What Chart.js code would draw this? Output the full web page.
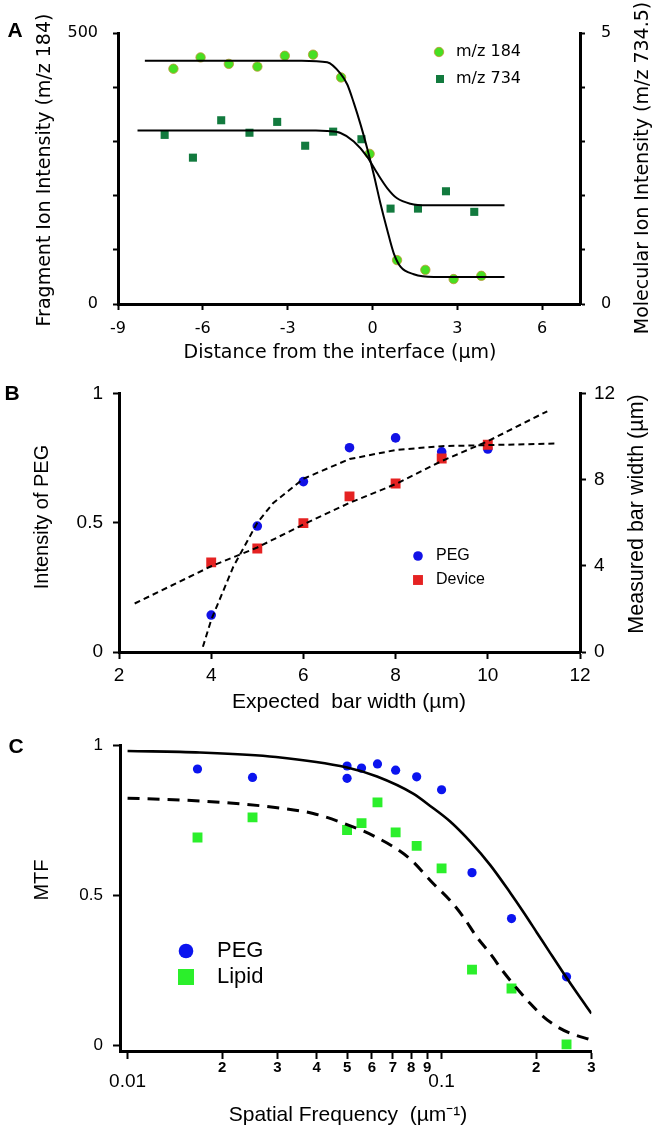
<!DOCTYPE html>
<html>
<head>
<meta charset="utf-8">
<script src="https://cdn.jsdelivr.net/npm/chart.js@4.4.1/dist/chart.umd.min.js"></script>
<style>
  html, body { margin: 0; padding: 0; background: #fff; }
  #wrap { position: relative; width: 656px; height: 1126px; overflow: hidden; }
  canvas { position: absolute; left: 0; }
</style>
</head>
<body>
<div id="wrap">
  <canvas id="chartA" width="656" height="372" style="top:0px"></canvas>
  <canvas id="chartB" width="656" height="348" style="top:372px"></canvas>
  <canvas id="chartC" width="656" height="406" style="top:720px"></canvas>
</div>
<script>
// ---------- panel A : ion intensity across the interface ----------
var aDist184 = [-7.04, -6.08, -5.08, -4.07, -3.10, -2.10, -1.11, -0.10, 0.87, 1.87, 2.87, 3.85];
var aInt184 = [434, 455, 443, 438, 458, 460, 418, 277, 81, 63, 46, 52];
var aDist734 = [-7.35, -6.35, -5.35, -4.35, -3.37, -2.38, -1.39, -0.39, 0.64, 1.61, 2.60, 3.60];
var aInt734 = [3.12, 2.70, 3.39, 3.16, 3.36, 2.92, 3.18, 3.04, 1.76, 1.76, 2.08, 1.70];
// fitted curves
var aFit184X = [-8.05, -2.5, -1.6, -1.13, -0.89, -0.66, -0.42, -0.19, 0.05, 0.28, 0.52, 0.75, 0.99, 1.46, 2.17, 4.67];
var aFit184Y = [449, 449, 446, 425, 405, 371, 331, 288, 238, 186, 137, 94, 69, 55, 50, 50];
var aFit734X = [-8.31, -2.0, -1.6, -1.13, -0.66, -0.19, 0.16, 0.52, 0.87, 1.34, 1.93, 4.67];
var aFit734Y = [3.20, 3.20, 3.19, 3.155, 3.0, 2.72, 2.42, 2.14, 1.95, 1.85, 1.82, 1.82];
var aXTicks = [-9, -6, -3, 0, 3, 6];
var aYTicks = [0, 100, 200, 300, 400, 500];
var aYLabels = ['0', '', '', '', '', '500'];
var aY1Ticks = [0, 1, 2, 3, 4, 5];
var aY1Labels = ['0', '', '', '', '', '5'];

// ---------- panel B : bar width calibration ----------
var bWidth = [4, 5, 6, 7, 8, 9, 10];
var bPeg = [0.143, 0.487, 0.659, 0.790, 0.828, 0.774, 0.785];
var bDevice = [4.16, 4.80, 5.98, 7.22, 7.82, 8.98, 9.62];
var bPegFitX = [3.82, 4.0, 4.48, 5.0, 5.34, 6.0, 7.0, 8.0, 9.0, 10.0, 11.45];
var bPegFitY = [0.02, 0.124, 0.33, 0.50, 0.575, 0.67, 0.746, 0.781, 0.796, 0.80, 0.806];
var bDevFitX = [2.34, 4, 5, 6, 7, 8, 9, 10, 11.29];
var bDevFitY = [2.25, 3.98, 4.85, 5.92, 6.92, 7.79, 8.86, 9.78, 11.17];
var bXTicks = [2, 4, 6, 8, 10, 12];
var bYTicks = [0, 0.5, 1];
var bY1Ticks = [0, 4, 8, 12];

// ---------- panel C : MTF vs spatial frequency ----------
var cPegFreq = [0.0167, 0.025, 0.05, 0.05, 0.0556, 0.0625, 0.0714, 0.0833, 0.1, 0.125, 0.167, 0.25];
var cPeg = [0.92, 0.892, 0.930, 0.889, 0.923, 0.937, 0.916, 0.894, 0.851, 0.575, 0.422, 0.228];
var cLipidFreq = [0.0167, 0.025, 0.05, 0.0556, 0.0625, 0.0714, 0.0833, 0.1, 0.125, 0.167, 0.25];
var cLipid = [0.692, 0.759, 0.717, 0.740, 0.809, 0.709, 0.664, 0.589, 0.252, 0.189, 0.003];
var cPegFitX = [0.01, 0.017, 0.0297, 0.05, 0.0623, 0.0812, 0.092, 0.1065, 0.1234, 0.1429, 0.1654, 0.1824, 0.2012, 0.2219, 0.2446, 0.27, 0.3];
var cPegFitY = [0.98, 0.975, 0.96, 0.925, 0.895, 0.838, 0.797, 0.745, 0.678, 0.600, 0.508, 0.443, 0.375, 0.307, 0.240, 0.174, 0.106];
var cLipidFitX = [0.01, 0.0147, 0.0212, 0.0306, 0.039, 0.05, 0.0614, 0.0783, 0.0942, 0.1065, 0.1174, 0.1296, 0.1429, 0.1575, 0.1738, 0.1916, 0.2112, 0.2331, 0.257, 0.3];
var cLipidFitY = [0.823, 0.817, 0.807, 0.790, 0.772, 0.735, 0.695, 0.626, 0.538, 0.482, 0.427, 0.360, 0.305, 0.244, 0.189, 0.139, 0.095, 0.062, 0.040, 0.018];
var cXTicks = [0.01, 0.02, 0.03, 0.04, 0.05, 0.06, 0.07, 0.08, 0.09, 0.1, 0.2, 0.3];
var cXLabels = ['0.01', '2', '3', '4', '5', '6', '7', '8', '9', '0.1', '2', '3'];
var cYTicks = [0, 0.5, 1];

var TAHOMA = '"DejaVu Sans", Verdana, sans-serif';
var ARIAL = '"Liberation Sans", Arial, sans-serif';

function pts(xs, ys) {
    return xs.map(function (x, i) { return { x: x, y: ys[i] }; });
}

function fixedTicks(values) {
    return function (scale) {
        scale.ticks = values.map(function (v) { return { value: v }; });
    };
}

// common look of an axis: black border, outside ticks, no grid
function axis(opts) {
    return {
        type: opts.type || 'linear',
        position: opts.position,
        min: opts.min,
        max: opts.max,
        afterBuildTicks: fixedTicks(opts.ticks),
        afterFit: function (s) {
            if (opts.position === 'bottom') s.height = opts.size; else s.width = opts.size;
        },
        grid: { drawOnChartArea: false, drawTicks: true, tickLength: opts.tickLength || 6, tickWidth: 2, tickColor: '#000' },
        border: { display: true, color: '#000', width: 3 },
        ticks: {
            autoSkip: false,
            maxRotation: 0,
            color: '#000',
            padding: opts.padding,
            font: opts.font,
            callback: function (v, i) {
                return opts.labels ? opts.labels[i] : String(opts.ticks[i]);
            }
        }
    };
}

// axis titles, panel letters
var panelText = {
    id: 'panelText',
    afterDraw: function (chart, args, opts) {
        var ctx = chart.ctx;
        (opts.items || []).forEach(function (t) {
            ctx.save();
            ctx.font = t.font;
            ctx.fillStyle = '#000';
            ctx.textAlign = t.align || 'center';
            ctx.textBaseline = 'middle';
            ctx.translate(t.x, t.y);
            if (t.rot) ctx.rotate(t.rot);
            ctx.fillText(t.text, 0, 0);
            ctx.restore();
        });
    }
};

// legend drawn inside the plot, markers taken from the datasets
var markerLegend = {
    id: 'markerLegend',
    afterDraw: function (chart, args, opts) {
        var ctx = chart.ctx;
        (opts.items || []).forEach(function (it) {
            var ds = chart.data.datasets[it.dataset];
            ctx.save();
            ctx.fillStyle = ds.backgroundColor;
            ctx.strokeStyle = ds.borderColor;
            ctx.lineWidth = ds.borderWidth || 0;
            Chart.helpers.drawPoint(ctx, {
                pointStyle: ds.pointStyle,
                radius: it.radius || ds.pointRadius,
                rotation: 0,
                borderWidth: ds.borderWidth || 0
            }, it.x, it.y);
            ctx.font = opts.font;
            ctx.fillStyle = '#000';
            ctx.textAlign = 'left';
            ctx.textBaseline = 'middle';
            ctx.fillText(ds.label, it.textX, it.y);
            ctx.restore();
        });
    }
};

function lineSet(xs, ys, yAxis, width, dash, mode) {
    return {
        label: 'fit',
        data: pts(xs, ys),
        yAxisID: yAxis,
        showLine: true,
        borderColor: '#000',
        borderWidth: width,
        borderDash: dash || [],
        pointRadius: 0,
        fill: false,
        cubicInterpolationMode: mode || 'default',
        tension: 0
    };
}

function markerSet(label, xs, ys, yAxis, style, radius, fillColor, edge) {
    return {
        label: label,
        data: pts(xs, ys),
        yAxisID: yAxis,
        showLine: false,
        pointStyle: style,
        pointRadius: radius,
        backgroundColor: fillColor,
        borderColor: edge || fillColor,
        borderWidth: edge ? 1 : 0
    };
}

var base = {
    responsive: false,
    animation: false,
    devicePixelRatio: 1,
    events: []
};

// ---------- chart A ----------
new Chart(document.getElementById('chartA'), {
    type: 'scatter',
    data: {
        datasets: [
            lineSet(aFit184X, aFit184Y, 'y', 2, null, 'monotone'),
            lineSet(aFit734X, aFit734Y, 'y1', 2, null, 'monotone'),
            markerSet('m/z 184', aDist184, aInt184, 'y', 'circle', 4.7, '#47df22', 'rgba(190,150,50,0.8)'),
            markerSet('m/z 734', aDist734, aInt734, 'y1', 'rect', 5.7, '#127a3e')
        ]
    },
    options: Object.assign({}, base, {
        layout: { padding: { top: 33, left: 0, right: 0, bottom: 0 } },
        plugins: {
            legend: { display: false },
            tooltip: { enabled: false },
            panelText: {
                items: [
                    { text: 'A', x: 15, y: 31, font: 'bold 21px ' + ARIAL },
                    { text: 'Fragment Ion Intensity (m/z 184)', x: 45, y: 170, rot: -Math.PI / 2, font: '19px ' + TAHOMA },
                    { text: 'Molecular Ion Intensity (m/z 734.5)', x: 643, y: 168, rot: -Math.PI / 2, font: '19px ' + TAHOMA },
                    { text: 'Distance from the interface (\u00b5m)', x: 340, y: 353, font: '19px ' + TAHOMA }
                ]
            },
            markerLegend: {
                font: '16px ' + TAHOMA,
                items: [
                    { dataset: 2, x: 439, y: 52, textX: 456 },
                    { dataset: 3, x: 440, y: 79, textX: 456 }
                ]
            }
        },
        scales: {
            x: axis({ position: 'bottom', min: -9, max: 7.34, ticks: aXTicks, size: 68, padding: 9, font: { family: TAHOMA, size: 16 } }),
            y: axis({ position: 'left', min: 0, max: 500, ticks: aYTicks, labels: aYLabels, size: 118, tickLength: 5, padding: 15, font: { family: TAHOMA, size: 16 } }),
            y1: axis({ position: 'right', min: 0, max: 5, ticks: aY1Ticks, labels: aY1Labels, size: 76, tickLength: 5, padding: 16, font: { family: TAHOMA, size: 16 } })
        }
    }),
    plugins: [panelText, markerLegend]
});

// ---------- chart B ----------
new Chart(document.getElementById('chartB'), {
    type: 'scatter',
    data: {
        datasets: [
            lineSet(bPegFitX, bPegFitY, 'y', 2, [6, 4]),
            lineSet(bDevFitX, bDevFitY, 'y1', 2, [6, 4]),
            markerSet('Device', bWidth, bDevice, 'y1', 'rect', 7, '#e52222'),
            markerSet('PEG', bWidth, bPeg, 'y', 'circle', 4.8, '#1212e6')
        ]
    },
    options: Object.assign({}, base, {
        layout: { padding: { top: 19, left: 0, right: 0, bottom: 0 } },
        plugins: {
            legend: { display: false },
            tooltip: { enabled: false },
            panelText: {
                items: [
                    { text: 'B', x: 12, y: 22, font: 'bold 21px ' + ARIAL },
                    { text: 'Intensity of PEG', x: 42, y: 145, rot: -Math.PI / 2, font: '20px ' + ARIAL },
                    { text: 'Measured bar width (\u00b5m)', x: 637, y: 142, rot: -Math.PI / 2, font: '21.5px ' + ARIAL },
                    { text: 'Expected  bar width (\u00b5m)', x: 349, y: 330, font: '21px ' + ARIAL }
                ]
            },
            markerLegend: {
                font: '16px ' + ARIAL,
                items: [
                    { dataset: 3, x: 418, y: 184, textX: 436 },
                    { dataset: 2, x: 418, y: 208, textX: 436 }
                ]
            }
        },
        scales: {
            x: axis({ position: 'bottom', min: 2, max: 12, ticks: bXTicks, size: 68, tickLength: 7, padding: 5, font: { family: ARIAL, size: 19 } }),
            y: axis({ position: 'left', min: 0, max: 1, ticks: bYTicks, size: 119, padding: 10, font: { family: ARIAL, size: 19 } }),
            y1: axis({ position: 'right', min: 0, max: 12, ticks: bY1Ticks, size: 76, padding: 8, font: { family: ARIAL, size: 19 } })
        }
    }),
    plugins: [panelText, markerLegend]
});

// ---------- chart C ----------
var cXAxis = axis({ type: 'logarithmic', position: 'bottom', min: 0.00946, max: 0.3, ticks: cXTicks, labels: cXLabels, size: 75, tickLength: 8, padding: 1 });
cXAxis.ticks.callback = function (v, i) {
    // decade labels sit one line below the bold minor digits
    return (cXTicks[i] === 0.01 || cXTicks[i] === 0.1) ? ['', cXLabels[i]] : cXLabels[i];
};
cXAxis.ticks.font = function (ctx) {
    var v = ctx.tick && ctx.tick.value;
    if (v === 0.01 || v === 0.1) return { family: ARIAL, size: 19, lineHeight: 0.78 };
    return { family: ARIAL, size: 15, weight: 'bold', lineHeight: 1.1 };
};

new Chart(document.getElementById('chartC'), {
    type: 'scatter',
    data: {
        datasets: [
            lineSet(cPegFitX, cPegFitY, 'y', 2.6, null, 'monotone'),
            lineSet(cLipidFitX, cLipidFitY, 'y', 3, [12, 8], 'monotone'),
            markerSet('PEG', cPegFreq, cPeg, 'y', 'circle', 4.6, '#0b14ef'),
            markerSet('Lipid', cLipidFreq, cLipid, 'y', 'rect', 7, '#2bef2b')
        ]
    },
    options: Object.assign({}, base, {
        layout: { padding: { top: 25, left: 0, right: 64.6, bottom: 0 } },
        plugins: {
            legend: { display: false },
            tooltip: { enabled: false },
            panelText: {
                items: [
                    { text: 'C', x: 16, y: 27, font: 'bold 21px ' + ARIAL },
                    { text: 'MTF', x: 42, y: 160, rot: -Math.PI / 2, font: '20px ' + ARIAL },
                    { text: 'Spatial Frequency  (\u00b5m\u207b\u00b9)', x: 348, y: 395, font: '21px ' + ARIAL }
                ]
            },
            markerLegend: {
                font: '22px ' + ARIAL,
                items: [
                    { dataset: 2, x: 186, y: 231, textX: 217, radius: 7.3 },
                    { dataset: 3, x: 186, y: 257, textX: 217, radius: 11.3 }
                ]
            }
        },
        scales: {
            x: cXAxis,
            y: axis({ position: 'left', min: -0.019, max: 1, ticks: cYTicks, size: 120, tickLength: 7, padding: 10, font: { family: ARIAL, size: 17 } })
        }
    }),
    plugins: [panelText, markerLegend]
});
</script>
</body>
</html>
